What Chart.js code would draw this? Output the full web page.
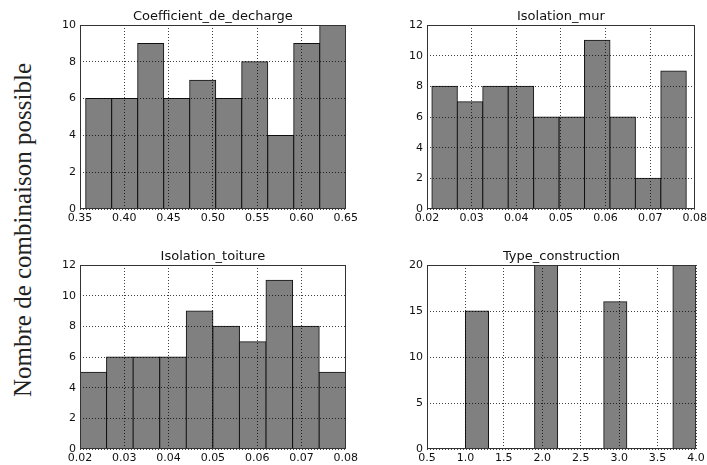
<!DOCTYPE html>
<html><head><meta charset="utf-8">
<script src="https://cdn.jsdelivr.net/npm/chart.js@4/dist/chart.umd.min.js"></script>
<style>
html,body{margin:0;padding:0;background:#fff;width:707px;height:465px;overflow:hidden;position:relative}
.c{position:absolute}
#ylab{position:absolute;left:-177px;top:215px;width:400px;height:30px;line-height:30px;text-align:center;font-family:"Liberation Serif",serif;font-size:25px;color:#222;transform:rotate(-90deg);white-space:nowrap}
</style></head><body>
<div id="ylab">Nombre de combinaison possible</div>
<canvas class="c" id="c1" width="321" height="225" style="left:40px;top:0px"></canvas>
<canvas class="c" id="c2" width="323" height="225" style="left:387px;top:0px"></canvas>
<canvas class="c" id="c3" width="321" height="225" style="left:40px;top:240px"></canvas>
<canvas class="c" id="c4" width="323" height="225" style="left:387px;top:240px"></canvas>
<script>
// ---- Data ----
const coefTitle = "Coefficient_de_decharge";
const coefEdges = [0.3564, 0.3858, 0.4151, 0.4445, 0.4738, 0.5032, 0.5326, 0.5619, 0.5913, 0.6206, 0.65];
const coefCounts = [6, 6, 9, 6, 7, 6, 8, 4, 9, 10];
const coefXTicks = [0.35, 0.40, 0.45, 0.50, 0.55, 0.60, 0.65];
const coefYTicks = [0, 2, 4, 6, 8, 10];

const murTitle = "Isolation_mur";
const murEdges = [0.0211, 0.0268, 0.0325, 0.0382, 0.0439, 0.0496, 0.0553, 0.0610, 0.0667, 0.0724, 0.0781];
const murCounts = [8, 7, 8, 8, 6, 6, 11, 6, 2, 9];
const murXTicks = [0.02, 0.03, 0.04, 0.05, 0.06, 0.07, 0.08];
const murYTicks = [0, 2, 4, 6, 8, 10, 12];

const toitTitle = "Isolation_toiture";
const toitEdges = [0.020, 0.026, 0.032, 0.038, 0.044, 0.050, 0.056, 0.062, 0.068, 0.074, 0.080];
const toitCounts = [5, 6, 6, 6, 9, 8, 7, 11, 8, 5];
const toitXTicks = [0.02, 0.03, 0.04, 0.05, 0.06, 0.07, 0.08];
const toitYTicks = [0, 2, 4, 6, 8, 10, 12];

const typeTitle = "Type_construction";
const typeEdges = [1.0, 1.3, 1.6, 1.9, 2.2, 2.5, 2.8, 3.1, 3.4, 3.7, 4.0];
const typeCounts = [15, 0, 0, 20, 0, 0, 16, 0, 0, 20];
const typeXTicks = [0.5, 1.0, 1.5, 2.0, 2.5, 3.0, 3.5, 4.0];
const typeYTicks = [0, 5, 10, 15, 20];

const yAxisLabel = "Nombre de combinaison possible";
document.getElementById('ylab').textContent = yAxisLabel;

// ---- Drawing ----
const frame = {
  id: 'frame',
  afterDraw(chart) {
    const a = chart.chartArea, ctx = chart.ctx;
    ctx.save();
    ctx.strokeStyle = '#333';
    ctx.lineWidth = 1;
    ctx.strokeRect(Math.round(a.left) + 0.5, Math.round(a.top) + 0.5,
      Math.round(a.right) - Math.round(a.left) - 1, Math.round(a.bottom) - Math.round(a.top) - 1);
    ctx.restore();
  }
};

const tickFont = { family: 'DejaVu Sans', size: 11 };
const gridOpts = { color: 'rgba(0,0,0,0.75)', lineWidth: 1, drawTicks: false, z: 1 };
const borderOpts = { display: false, dash: [1, 2] };

function makeHist(id, title, edges, counts, xTicks, yTicks, xDec, xMin, xMax, yMax) {
  const pts = counts.map((c, i) => ({ x: (edges[i] + edges[i + 1]) / 2, y: c }));
  new Chart(document.getElementById(id), {
    type: 'bar',
    data: { datasets: [{
      data: pts,
      backgroundColor: '#808080',
      borderColor: '#111',
      borderWidth: 1,
      borderSkipped: false,
      inflateAmount: 0.5,
      barPercentage: 1,
      categoryPercentage: 1
    }]},
    options: {
      responsive: false,
      animation: false,
      devicePixelRatio: 1,
      layout: { padding: { left: 0, right: 14, top: 0, bottom: 0 } },
      plugins: {
        legend: { display: false },
        tooltip: { enabled: false },
        title: { display: true, text: title, color: '#111', fullSize: false,
          font: { family: 'DejaVu Sans', size: 13, weight: 'normal', lineHeight: 1.2 },
          padding: { top: 9, bottom: 0.4 } }
      },
      scales: {
        x: {
          type: 'linear', min: xMin, max: xMax, offset: false,
          grid: Object.assign({ offset: false }, gridOpts),
          border: borderOpts,
          afterBuildTicks: s => { s.ticks = xTicks.map(v => ({ value: v })); },
          afterFit: s => { s.height = 16; },
          ticks: { font: tickFont, color: '#111', padding: 3, maxRotation: 0, autoSkip: false,
            callback: v => Number(v).toFixed(xDec) }
        },
        y: {
          min: 0, max: yMax,
          grid: gridOpts,
          border: borderOpts,
          afterBuildTicks: s => { s.ticks = yTicks.map(v => ({ value: v })); },
          afterFit: s => { s.width = 40; },
          ticks: { font: tickFont, color: '#111', padding: 4, autoSkip: false,
            callback: v => String(v) }
        }
      }
    },
    plugins: [frame]
  });
}

makeHist('c1', coefTitle, coefEdges, coefCounts, coefXTicks, coefYTicks, 2, 0.35, 0.65, 10);
makeHist('c2', murTitle, murEdges, murCounts, murXTicks, murYTicks, 2, 0.02, 0.08, 12);
makeHist('c3', toitTitle, toitEdges, toitCounts, toitXTicks, toitYTicks, 2, 0.02, 0.08, 12);
makeHist('c4', typeTitle, typeEdges, typeCounts, typeXTicks, typeYTicks, 1, 0.5, 4.0, 20);
</script>
</body></html>
